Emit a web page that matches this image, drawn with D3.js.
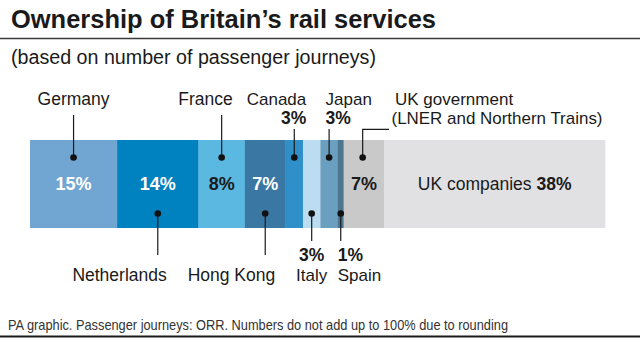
<!DOCTYPE html>
<html>
<head>
<meta charset="utf-8">
<script src="https://cdn.jsdelivr.net/npm/d3@7"></script>
<style>
  body { margin: 0; background: #fff; }
  svg { display: block; }
  text { font-family: "Liberation Sans", Arial, sans-serif; fill: #1a1a1a; }
</style>
</head>
<body>
<div id="chart"></div>
<script>
var owners = ["Germany", "Netherlands", "France", "Hong Kong", "Canada", "Italy", "Japan", "Spain", "UK government", "UK companies"];
var shares = [15, 14, 8, 7, 3, 3, 3, 1, 7, 38];
var colours = ["#72a6d2", "#0081c0", "#5bb8e1", "#3b77a3", "#2f8fc9", "#bcdcf2", "#6b9fbf", "#4c7590", "#c9c9c9", "#e1e1e3"];

// where each callout goes (layout only)
var callouts = [
    {side: "top",    anchor: "middle", dx: 0,   pct: "in",  light: true},
    {side: "bottom", anchor: "end",    dx: 9,   pct: "in",  light: true},
    {side: "top",    anchor: "end",    dx: 11,  pct: "in",  light: false},
    {side: "bottom", anchor: "end",    dx: 10,  pct: "in",  light: true},
    {side: "top",    anchor: "end",    dx: 12,  pct: "out"},
    {side: "bottom", anchor: "middle", dx: 0,   pct: "out"},
    {side: "top",    anchor: "start",  dx: -3.5, pct: "out"},
    {side: "bottom", anchor: "start",  dx: -3,  pct: "out"},
    {side: "elbow",  anchor: "start",  dx: 0,   pct: "in",  light: false},
    {side: "none",   pct: "named"}
];

var svgWidth = 640;
var svgHeight = 343;

var bar = {left: 30, right: 605, top: 140, bottom: 228};

var svg = d3.select("#chart")
    .append("svg")
    .attr("width", svgWidth)
    .attr("height", svgHeight);

// title, rule and subtitle
svg.append("text")
    .attr("x", 11)
    .attr("y", 27.5)
    .attr("font-size", "25px")
    .attr("font-weight", "bold")
    .attr("textLength", 425)
    .attr("lengthAdjust", "spacingAndGlyphs")
    .text("Ownership of Britain\u2019s rail services");

svg.append("line")
    .attr("x1", 0).attr("x2", 640)
    .attr("y1", 38.5).attr("y2", 38.5)
    .attr("stroke", "#3a3a3a")
    .attr("stroke-width", 1.5);

svg.append("text")
    .attr("x", 11)
    .attr("y", 64)
    .attr("font-size", "19.5px")
    .attr("textLength", 365)
    .attr("lengthAdjust", "spacingAndGlyphs")
    .text("(based on number of passenger journeys)");

// scale for the stacked bar
var total = d3.sum(shares);
var xScale = d3.scaleLinear()
    .domain([0, total])
    .range([bar.left, bar.right]);

var starts = [0].concat(Array.from(d3.cumsum(shares)).slice(0, -1));

var segments = owners.map(function(name, i) {
    return {
        name: name,
        value: shares[i],
        start: starts[i],
        colour: colours[i],
        c: callouts[i]
    };
});
segments.forEach(function(d) {
    d.x0 = xScale(d.start);
    d.x1 = xScale(d.start + d.value);
    d.mid = (d.x0 + d.x1) / 2;
});

var chartGroup = svg.append("g");

chartGroup.selectAll("rect")
    .data(segments)
    .enter()
    .append("rect")
    .attr("x", d => d.x0)
    .attr("y", bar.top)
    .attr("width", d => d.x1 - d.x0 + 0.3)
    .attr("height", bar.bottom - bar.top)
    .attr("fill", d => d.colour);

// percentages inside the bar
var inside = segments.filter(d => d.c.pct === "in");
chartGroup.selectAll("text.inpct")
    .data(inside)
    .enter()
    .append("text")
    .attr("class", "inpct")
    .attr("x", d => d.mid)
    .attr("y", 190)
    .attr("text-anchor", "middle")
    .attr("font-size", "18px")
    .attr("font-weight", "bold")
    .style("fill", d => d.c.light ? "#ffffff" : "#1a1a1a")
    .text(d => d.value + "%");

var named = segments.filter(d => d.c.pct === "named")[0];
var namedText = chartGroup.append("text")
    .attr("x", named.mid)
    .attr("y", 190)
    .attr("text-anchor", "middle")
    .attr("font-size", "17.5px");
namedText.append("tspan").text(named.name + " ");
namedText.append("tspan").attr("font-weight", "bold").text(named.value + "%");

// leader lines and dots
var dotTop = 157.5;
var dotBottom = 213.5;
var callGroup = chartGroup.append("g");

segments.forEach(function(d) {
    var c = d.c;
    if (c.side === "none") return;
    var lx = d.mid;
    var g = callGroup.append("g");
    var twoLine = c.pct === "out";
    var fs = twoLine ? "17px" : "17.5px";

    if (c.side === "top") {
        g.append("line")
            .attr("x1", lx).attr("x2", lx)
            .attr("y1", twoLine ? 129 : 115).attr("y2", dotTop);
        g.append("circle").attr("cx", lx).attr("cy", dotTop).attr("r", 3.3);
        g.append("text")
            .attr("x", lx + c.dx).attr("y", twoLine ? 104.5 : 105)
            .attr("text-anchor", c.anchor)
            .attr("font-size", fs)
            .text(d.name);
        if (twoLine) {
            g.append("text")
                .attr("x", lx + c.dx).attr("y", 123.5)
                .attr("text-anchor", c.anchor)
                .attr("font-size", "17.5px")
                .attr("font-weight", "bold")
                .text(d.value + "%");
        }
    }
    else if (c.side === "bottom") {
        g.append("line")
            .attr("x1", lx).attr("x2", lx)
            .attr("y1", dotBottom).attr("y2", twoLine ? 241 : 255);
        g.append("circle").attr("cx", lx).attr("cy", dotBottom).attr("r", 3.3);
        g.append("text")
            .attr("x", lx + c.dx).attr("y", 280.5)
            .attr("text-anchor", c.anchor)
            .attr("font-size", fs)
            .text(d.name);
        if (twoLine) {
            g.append("text")
                .attr("x", lx + c.dx).attr("y", 261)
                .attr("text-anchor", c.anchor)
                .attr("font-size", "17.5px")
                .attr("font-weight", "bold")
                .text(d.value + "%");
        }
    }
    else if (c.side === "elbow") {
        lx = lx - 1.3;
        g.append("path")
            .attr("d", `M${lx},${dotTop} V129.3 H389`)
            .attr("fill", "none");
        g.append("circle").attr("cx", lx).attr("cy", dotTop).attr("r", 3.3);
        g.append("text")
            .attr("x", 395).attr("y", 104.5)
            .attr("font-size", "17px")
            .text(d.name);
        g.append("text")
            .attr("x", 391.5).attr("y", 123.5)
            .attr("font-size", "17px")
            .attr("textLength", 211)
            .attr("lengthAdjust", "spacingAndGlyphs")
            .text("(LNER and Northern Trains)");
    }
    g.selectAll("line, path")
        .attr("stroke", "#1a1a1a")
        .attr("stroke-width", 1.2);
    g.selectAll("circle").attr("fill", "#111");
});

// footer
svg.append("text")
    .attr("x", 8)
    .attr("y", 330)
    .attr("font-size", "14.5px")
    .attr("textLength", 500)
    .attr("lengthAdjust", "spacingAndGlyphs")
    .style("fill", "#333")
    .text("PA graphic. Passenger journeys: ORR. Numbers do not add up to 100% due to rounding");

svg.append("line")
    .attr("x1", 0).attr("x2", 640)
    .attr("y1", 336.5).attr("y2", 336.5)
    .attr("stroke", "#1a1a1a")
    .attr("stroke-width", 2);
</script>
</body>
</html>
